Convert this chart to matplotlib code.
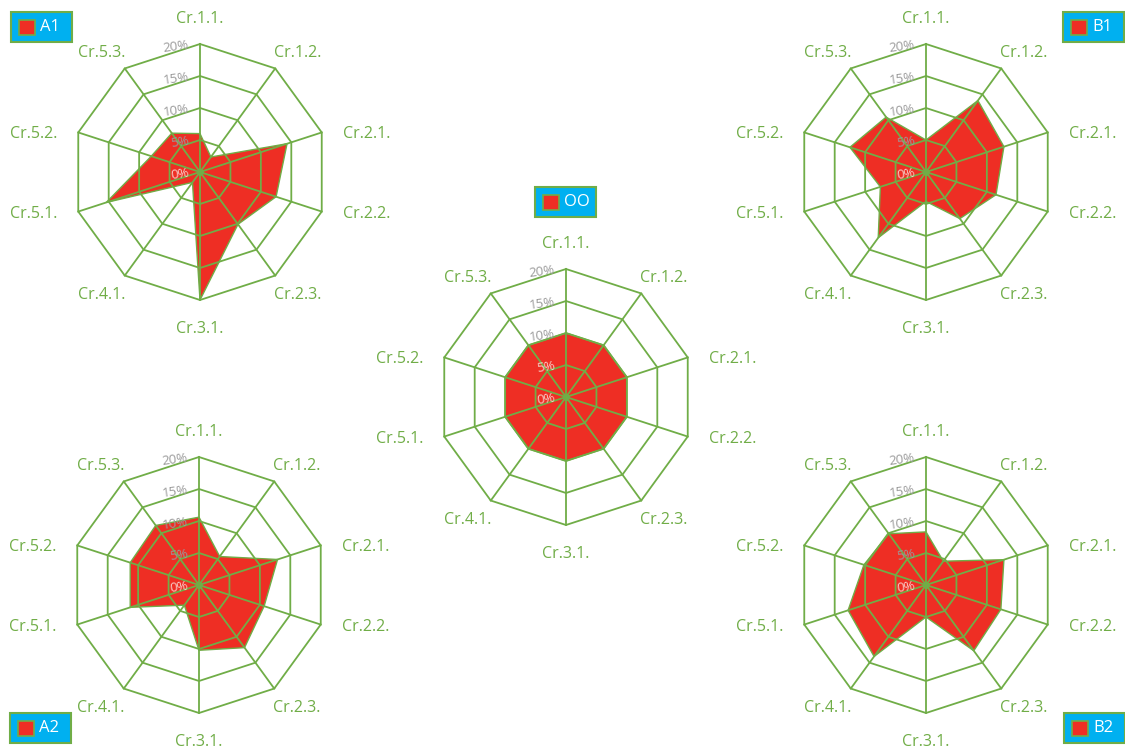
import numpy as np
import matplotlib.pyplot as plt
from matplotlib.patches import Rectangle

plt.rcParams['font.family'] = ['Open Sans', 'DejaVu Sans']

W, H = 1125, 749
green = '#70AD47'
red = '#EE2E24'
cyan = '#00B0F0'
grey = '#9A9A9A'

criteria = ['Cr.1.1.', 'Cr.1.2.', 'Cr.2.1.', 'Cr.2.2.', 'Cr.2.3.',
            'Cr.3.1.', 'Cr.4.1.', 'Cr.5.1.', 'Cr.5.2.', 'Cr.5.3.']
rings = [0, 5, 10, 15, 20]
ring_labels = ['0%', '5%', '10%', '15%', '20%']

# weights in %
a1 = [6.0, 2.9, 14.3, 12.5, 10.1, 20.0, 2.0, 15.4, 8.0, 7.5]
b1 = [5.0, 13.8, 12.8, 11.5, 9.0, 4.6, 12.7, 7.5, 12.5, 10.6]
oo = [10, 10, 10, 10, 10, 10, 10, 10, 10, 10]
a2 = [10.6, 5.5, 12.9, 10.7, 12.1, 10.2, 3.9, 11.3, 11.3, 11.5]
b2 = [8.3, 4.6, 12.8, 12.3, 12.7, 5.0, 13.8, 12.8, 10.2, 9.9]

fig = plt.figure(figsize=(W / 100, H / 100), dpi=100)

theta = np.linspace(0, 2 * np.pi, len(criteria), endpoint=False)
theta_c = np.append(theta, theta[0])


def radar(cx, cy, values, name, box, pink5=False):
    R = 128
    ax = fig.add_axes([(cx - R) / W, 1 - (cy + R) / H, 2 * R / W, 2 * R / H],
                      projection='polar')
    ax.set_theta_zero_location('N')
    ax.set_theta_direction(-1)
    ax.set_ylim(0, 20)
    ax.axis('off')

    v = np.append(values, values[0])
    ax.fill(theta_c, v, facecolor=red, edgecolor=green, lw=1, zorder=1, clip_on=False)

    for r in rings[1:]:
        ax.plot(theta_c, [r] * len(theta_c), color=green, lw=1.3, zorder=2, clip_on=False)
    for t in theta:
        ax.plot([t, t], [0, 20], color=green, lw=1.3, zorder=2, clip_on=False)
    ax.plot([0], [0], 'o', color=green, ms=4, zorder=3, clip_on=False)

    # category labels around the chart
    for t, lab in zip(theta, criteria):
        s, c = np.sin(t), np.cos(t)
        dx = 176 * np.sign(s) * abs(s) ** 1.1
        dy = 155 * np.sign(c) * abs(c) ** 1.15 - 2
        ax.annotate(lab, xy=(0, 0), xytext=(dx, dy), textcoords='offset pixels',
                    ha='center', va='center', color=green, fontsize=11.5)

    for r, lab in zip(rings, ring_labels):
        col = grey
        if r == 0 or (r == 5 and pink5):
            col = '#F6CFC8'
        ax.annotate(lab, xy=(0, r), xytext=(-11, -1), textcoords='offset pixels',
                    ha='right', va='center', rotation=8, rotation_mode='anchor',
                    fontsize=9.5, color=col, zorder=4)

    # legend box
    bx, by = box
    bw, bh = 61, 30
    fig.add_artist(Rectangle((bx / W, 1 - (by + bh) / H), bw / W, bh / H,
                             transform=fig.transFigure, facecolor=cyan,
                             edgecolor=green, lw=1.5))
    fig.add_artist(Rectangle(((bx + 8) / W, 1 - (by + 23) / H), 16 / W, 15 / H,
                             transform=fig.transFigure, facecolor=red,
                             edgecolor=green, lw=1.2))
    fig.text((bx + 29) / W, 1 - (by + bh / 2) / H, name, color='white',
             fontsize=12, ha='left', va='center')


radar(200, 172, a1, 'A1', (11, 12))
radar(926, 172, b1, 'B1', (1063, 12))
radar(566, 397, oo, 'OO', (535, 187), pink5=True)
radar(199, 585, a2, 'A2', (10, 713))
radar(926, 585, b2, 'B2', (1064, 713))

fig.savefig('out.png', dpi=100)
